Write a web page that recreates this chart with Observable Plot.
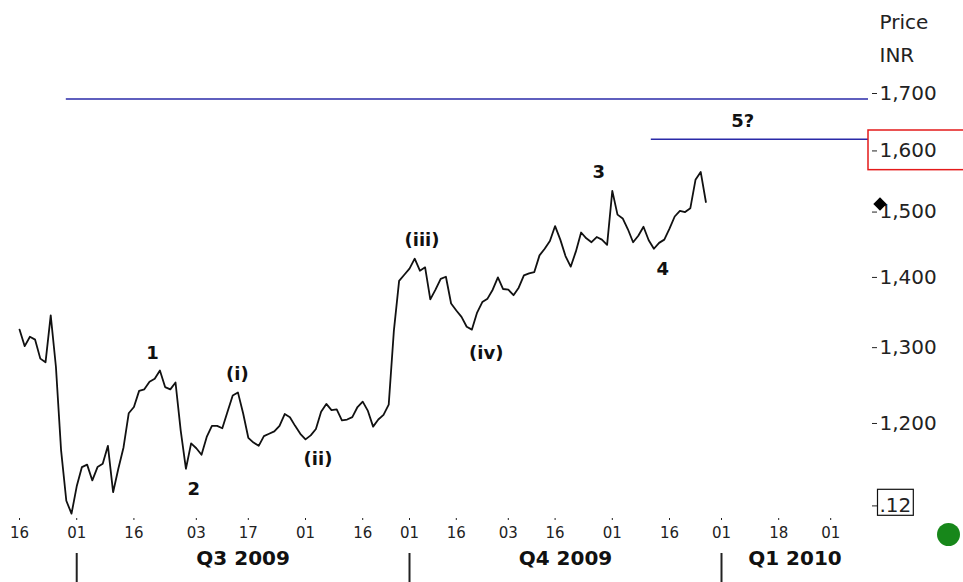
<!DOCTYPE html>
<html><head><meta charset="utf-8">
<script src="https://cdn.jsdelivr.net/npm/d3@7"></script>
<script src="https://cdn.jsdelivr.net/npm/@observablehq/plot@0.6"></script>
<style>
html,body{margin:0;padding:0;background:#fff;}
</style></head><body><div id="chart"></div>
<script>
// Daily closing prices (INR), one per trading session
const prices = [
1325,1302,1315,1311,1285,1280,1345,1274,1166,1106,
1091,1123,1146,1149,1130,1146,1150,1172,1116,1144,
1170,1213,1221,1242,1244,1254,1258,1269,1247,1244,
1253,1191,1144,1175,1169,1161,1183,1197,1197,1194,
1215,1236,1240,1213,1182,1176,1172,1184,1187,1190,
1197,1212,1208,1197,1187,1180,1185,1193,1215,1225,
1217,1218,1204,1205,1208,1221,1228,1216,1196,1205,
1211,1224,1324,1395,1404,1413,1428,1410,1415,1368,
1382,1398,1401,1362,1352,1343,1329,1325,1349,1364,
1369,1382,1400,1383,1382,1374,1385,1403,1406,1408,
1433,1443,1455,1478,1457,1432,1416,1439,1468,1459,
1453,1461,1457,1449,1534,1496,1490,1473,1453,1463,
1477,1456,1443,1452,1457,1474,1493,1502,1500,1506,
1552,1565,1516
];
// Session index of each date tick and its label
const tickIdx = [0,11,22,34,44,55,66,75,84,94,103,114,125,135,146,156];
const tickLabels = ["16","01","16","03","17","01","16","01","16","03","16","01","16","01","18","01"];
// Quarters (session index of start / end)
const quarterLabels = ["Q3 2009","Q4 2009","Q1 2010"];
const quarterStart = [11,75,135];
const quarterEnd = [75,135,198];
// Price axis
const priceTicks = [1100,1200,1300,1400,1500,1600,1700];
const highlightedTick = 1600;
// Elliott wave annotations
const waveLabels = ["1","2","(i)","(ii)","(iii)","(iv)","3","4","5?"];
const waveIdx = [25.6,33.5,41.9,57.4,77.4,89.75,111.4,123.7,139.1];
const wavePrice = [1292,1120,1264,1155,1456,1292,1564,1412,1651];
// Target levels (horizontal lines) and their starting session
const targetLevels = [1690,1620];
const targetFrom = [9,121.5];

const xDomain = [-1.35, 163.27];
const data = prices.map((p,i)=>({i,p}));
const fmt = d3.format(",");

const chart = Plot.plot({
  width: 963, height: 582,
  marginLeft: 12, marginRight: 95, marginTop: 0, marginBottom: 64,
  style: {fontFamily: "DejaVu Sans", background: "#fff", color: "#222"},
  x: {domain: xDomain, range: [12, 868]},
  y: {type: "log", domain: [1100, 1700], range: [505.4, 93]},
  marks: [
    Plot.ruleY(targetLevels, {y: d=>d, x1: (d,k)=>targetFrom[k], x2: ()=>xDomain[1], stroke: "#2a2aa8", strokeWidth: 1.5}),
    Plot.line(data, {x: "i", y: "p", stroke: "#111", strokeWidth: 1.8}),
    Plot.text(waveLabels, {x: (d,k)=>waveIdx[k], y: (d,k)=>wavePrice[k], text: d=>d, fontWeight: "bold", fontSize: 18, fill: "#111"}),
    Plot.rect([highlightedTick], {x1: ()=>xDomain[1], x2: ()=>xDomain[1]+25, y1: d=>d/1.0205, y2: d=>d*1.0218, fill: "none", stroke: "#e41a1a", strokeWidth: 1.5}),
    Plot.axisY({anchor: "right", ticks: priceTicks, tickFormat: d => d === 1100 ? ".12" : fmt(d), tickSize: 5, tickPadding: 3, dx: 3, fontSize: 20, label: null}),
    Plot.axisX({anchor: "bottom", ticks: tickIdx, tickFormat: d => tickLabels[tickIdx.indexOf(d)], tickSize: 2, tickPadding: 7, fontSize: 15, label: null}),
    Plot.axisX({anchor: "bottom", ticks: quarterStart, tickFormat: () => "", tickSize: 30, dy: 35, strokeWidth: 2, label: null}),
    Plot.text(quarterLabels, {x: (d,k)=>(Math.max(quarterStart[k], xDomain[0]) + Math.min(quarterEnd[k], xDomain[1]))/2, frameAnchor: "bottom", dy: 46, text: d=>d, fontWeight: "bold", fontSize: 20, fill: "#111"}),
    Plot.text(["Price\nINR"], {frameAnchor: "top-right", dx: 11, dy: 5, textAnchor: "start", lineAnchor: "top", lineHeight: 1.65, fontSize: 20, fill: "#222"}),
    Plot.dot([prices[prices.length-1]], {x: ()=>xDomain[1], y: d=>d, dx: 11.5, dy: 2, symbol: "diamond2", r: 6, fill: "#000"}),
    Plot.dot([0], {frameAnchor: "bottom-right", dx: 80, dy: 16, r: 11.5, fill: "#17871a"})
  ]
});
document.getElementById("chart").appendChild(chart);
// box around the ".12" marker label
d3.select(chart).selectAll("text").filter(function(){ return this.textContent === ".12"; }).each(function(){
  const b = this.getBBox();
  const t = this.getAttribute("transform");
  d3.select(this.parentNode).insert("rect", () => this)
    .attr("x", b.x - 2).attr("y", b.y - 4).attr("width", b.width + 4).attr("height", b.height + 2)
    .attr("transform", t).attr("fill", "#fff").attr("stroke", "#111").attr("stroke-width", 1.2);
});
</script>
</body></html>
